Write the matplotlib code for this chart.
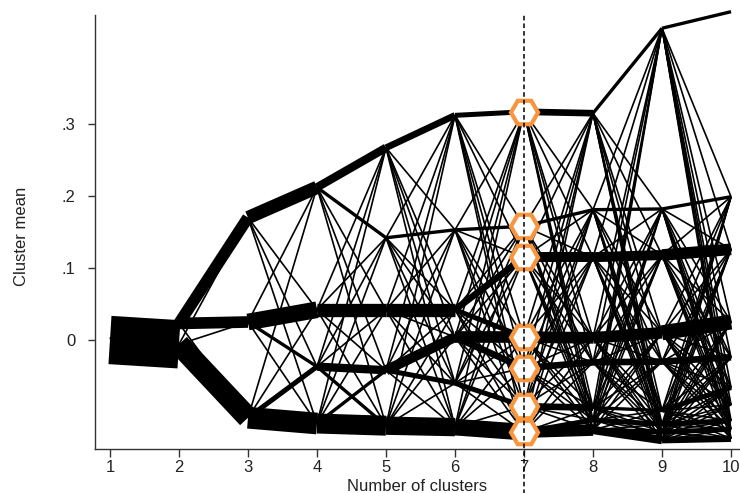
import matplotlib
matplotlib.use('Agg')
import matplotlib.pyplot as plt

plt.rcParams['font.family'] = ['Liberation Sans', 'DejaVu Sans']

# ---- data (cluster means for k = 1..10 clusters) ----
n_clusters = [1, 2, 3, 4, 5, 6, 7, 8, 9, 10]
means_1 = [0.000]
means_2 = [0.023, -0.006]
means_3 = [0.170, 0.025, -0.108]
means_4 = [0.212, 0.042, -0.037, -0.116]
means_5 = [0.267, 0.142, 0.042, -0.042, -0.119]
means_6 = [0.312, 0.153, 0.042, 0.004, -0.060, -0.121]
means_7 = [0.317, 0.158, 0.115, 0.004, -0.039, -0.092, -0.128]
means_8 = [0.315, 0.181, 0.115, 0.003, -0.031, -0.094, -0.111, -0.125]
means_9 = [0.433, 0.182, 0.118, 0.010, -0.030, -0.098, -0.117, -0.128, -0.139]
means_10 = [0.456, 0.199, 0.126, 0.025, -0.024, -0.066, -0.090, -0.112, -0.124, -0.137]

# ---- flows between clusters at k and k+1 (relative number of observations) ----
flows_1_2 = [[3, 29]]
flows_2_3 = [[7, 7, 1],
             [1, 1, 13]]
flows_3_4 = [[8, 1, 1, 1],
             [1, 10, 2, 1],
             [1, 1, 3, 13]]
flows_4_5 = [[5, 2, 1, 1, 1],
             [1, 1, 8, 1, 1],
             [1, 1, 1, 5, 2],
             [1, 1, 1, 2, 12]]
flows_5_6 = [[4, 1, 1, 1, 1, 1],
             [1, 2, 1, 1, 1, 1],
             [1, 1, 8, 1, 1, 1],
             [1, 1, 1, 6, 3, 1],
             [1, 1, 1, 1, 1, 11]]
flows_6_7 = [[3, 1, 1, 1, 1, 1, 1],
             [1, 2, 1, 1, 1, 1, 1],
             [1, 1, 4, 3, 1, 1, 1],
             [1, 1, 1, 7, 4, 1, 1],
             [1, 1, 1, 1, 1, 3, 1],
             [1, 1, 1, 1, 1, 1, 10]]
flows_7_8 = [[4, 1, 1, 1, 1, 1, 1, 1],
             [1, 2, 1, 1, 1, 1, 1, 1],
             [1, 1, 6, 1, 1, 1, 1, 1],
             [1, 1, 1, 7, 1, 1, 1, 1],
             [1, 1, 1, 1, 4, 1, 1, 1],
             [1, 1, 1, 1, 1, 4, 1, 1],
             [1, 1, 1, 1, 1, 1, 3, 7]]
flows_8_9 = [[2, 1, 1, 1, 1, 1, 1, 1, 1],
             [1, 2, 1, 1, 1, 1, 1, 1, 1],
             [1, 1, 6, 1, 1, 1, 1, 1, 1],
             [1, 1, 1, 7, 1, 1, 1, 1, 1],
             [1, 1, 1, 1, 4, 1, 1, 1, 1],
             [1, 1, 1, 1, 1, 2, 1, 1, 1],
             [1, 1, 1, 1, 1, 1, 3, 1, 1],
             [1, 1, 1, 1, 1, 1, 1, 3, 5]]
flows_9_10 = [[2, 1, 1, 1, 1, 1, 1, 1, 1, 1],
              [0, 2, 1, 1, 1, 1, 1, 1, 1, 1],
              [0, 1, 7, 1, 1, 1, 1, 1, 1, 1],
              [0, 1, 1, 9, 1, 1, 1, 1, 1, 1],
              [0, 1, 1, 1, 4, 1, 1, 1, 1, 1],
              [0, 1, 1, 1, 1, 3, 1, 1, 1, 1],
              [0, 1, 1, 1, 1, 1, 1, 3, 1, 1],
              [0, 1, 1, 1, 1, 1, 1, 1, 3, 1],
              [0, 1, 1, 1, 1, 1, 1, 1, 1, 4]]

selected_k = 7
xtick_labels = ['1', '2', '3', '4', '5', '6', '7', '8', '9', '10']
ytick_values = [0.0, 0.1, 0.2, 0.3]
ytick_labels = ['0', '.1', '.2', '.3']

all_means = [means_1, means_2, means_3, means_4, means_5,
             means_6, means_7, means_8, means_9, means_10]
all_flows = [flows_1_2, flows_2_3, flows_3_4, flows_4_5, flows_5_6,
             flows_6_7, flows_7_8, flows_8_9, flows_9_10]

# ---- figure ----
fig = plt.figure(figsize=(7.4, 4.93), dpi=100)
ax = fig.add_axes([95 / 740, 44 / 493, 645 / 740, 434 / 493])

lw_per_unit = 1.2
for t, flows in enumerate(all_flows):
    k0 = n_clusters[t]
    k1 = n_clusters[t + 1]
    m0 = all_means[t]
    m1 = all_means[t + 1]
    for i, row in enumerate(flows):
        for j, c in enumerate(row):
            if c > 0:
                ax.plot([k0, k1], [m0[i], m1[j]], color='black',
                        lw=c * lw_per_unit, solid_capstyle='butt',
                        clip_on=False, zorder=2)

sel_means = all_means[n_clusters.index(selected_k)]
ax.plot([selected_k] * len(sel_means), sel_means, linestyle='none',
        marker='H', ms=19.5, mfc='white', mec='#F7963F', mew=3,
        zorder=5, clip_on=False)

ax.axvline(selected_k, ymin=-0.105, ymax=1.005, color='black', lw=1.1,
           ls=(0, (3, 2)), clip_on=False, zorder=6)

ax.set_xlim(0.783, 10.13)
ax.set_ylim(-0.1514, 0.4514)
ax.set_xticks(n_clusters)
ax.set_xticklabels(xtick_labels)
ax.set_yticks(ytick_values)
ax.set_yticklabels(ytick_labels)

for s in ['top', 'right']:
    ax.spines[s].set_visible(False)
for s in ['left', 'bottom']:
    ax.spines[s].set_color('#333333')
    ax.spines[s].set_linewidth(1.0)

ax.tick_params(axis='both', direction='out', length=5, width=1,
               color='#333333', labelsize=12, labelcolor='#222222')
ax.tick_params(axis='y', pad=9)
ax.tick_params(axis='x', pad=2, length=6)

ax.set_xlabel('Number of clusters', fontsize=12, color='#222222', labelpad=3)
ax.set_ylabel('Cluster mean', fontsize=12, color='#222222')
ax.yaxis.set_label_coords(-0.103, 0.49)

fig.savefig('out.png', dpi=100)
